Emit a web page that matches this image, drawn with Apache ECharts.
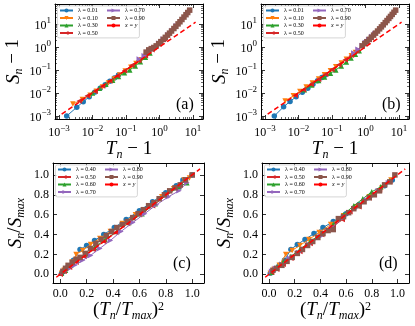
<!DOCTYPE html>
<html>
<head>
<meta charset="utf-8">
<script src="https://cdn.jsdelivr.net/npm/echarts@6/dist/echarts.min.js"></script>
<style>
html, body { margin: 0; padding: 0; background: #fff; }
#chart { width: 415px; height: 326px; }
</style>
</head>
<body>
<div id="chart"></div>
<script>
// ---- data ----
var topNames = ['λ = 0.01', 'λ = 0.10', 'λ = 0.30', 'λ = 0.50', 'λ = 0.70', 'λ = 0.90'];
var botNames = ['λ = 0.40', 'λ = 0.50', 'λ = 0.60', 'λ = 0.70', 'λ = 0.80', 'λ = 0.90'];

// panel (a): T_n - 1 (x) and S_n - 1 (y), one list per lambda
var aX = [
    [0.0017, 0.0034, 0.0053, 0.0080, 0.012, 0.017, 0.024, 0.033, 0.045, 0.060],
    [0.0026, 0.0050, 0.0085, 0.013, 0.020, 0.030, 0.045, 0.065, 0.095, 0.14, 0.20, 0.29, 0.40],
    [0.010, 0.016, 0.025, 0.040, 0.060, 0.090, 0.13, 0.19, 0.27, 0.38, 0.52],
    [0.004, 0.007, 0.012, 0.020, 0.033, 0.055, 0.09, 0.15, 0.24, 0.38, 0.6, 0.95, 1.4],
    [0.25, 0.35, 0.5, 0.7, 0.95, 1.3, 1.8, 2.4, 3.2],
    [0.40, 0.48, 0.57, 0.68, 0.8, 0.95, 1.1, 1.3, 1.5, 1.75, 2.0, 2.3, 2.7, 3.1, 3.6, 4.1, 4.7, 5.4, 6.2, 7.0, 8.0]
];
var aY = [
    [0.0010, 0.0024, 0.0042, 0.0068, 0.011, 0.016, 0.023, 0.032, 0.045, 0.060],
    [0.0033, 0.0052, 0.0080, 0.012, 0.018, 0.027, 0.041, 0.060, 0.090, 0.13, 0.19, 0.28, 0.42],
    [0.010, 0.016, 0.024, 0.036, 0.052, 0.075, 0.10, 0.15, 0.23, 0.36, 0.55],
    [0.0045, 0.0075, 0.012, 0.020, 0.033, 0.056, 0.093, 0.16, 0.26, 0.42, 0.75, 1.35, 2.3],
    [0.3, 0.42, 0.65, 0.95, 1.45, 2.2, 3.4, 5.2, 8.3],
    [0.6, 0.75, 0.85, 0.95, 1.12, 1.40, 1.71, 2.15, 2.63, 3.28, 4.0, 4.95, 6.35, 7.9, 10.1, 12.5, 15.7, 20, 25.4, 31.5, 40]
];

// panel (b)
var bX = [
    [0.0019, 0.0036, 0.0056, 0.0085, 0.013, 0.019, 0.027, 0.037, 0.05, 0.063],
    [0.004, 0.007, 0.011, 0.017, 0.026, 0.04, 0.06, 0.09, 0.13, 0.19, 0.27, 0.38, 0.5],
    [0.015, 0.025, 0.04, 0.06, 0.09, 0.13, 0.19, 0.27, 0.37, 0.5, 0.65],
    [0.008, 0.014, 0.024, 0.04, 0.065, 0.1, 0.16, 0.25, 0.38, 0.55, 0.8, 1.1],
    [0.45, 0.6, 0.8, 1.0, 1.25, 1.55, 1.9],
    [0.8, 0.95, 1.1, 1.3, 1.5, 1.75, 2.0, 2.3, 2.65, 3.0, 3.4, 3.9, 4.4, 5.0, 5.6, 6.3, 7.1, 8.0]
];
var bY = [
    [0.0010, 0.0025, 0.0043, 0.0068, 0.0108, 0.016, 0.024, 0.034, 0.047, 0.060],
    [0.0045, 0.0075, 0.0115, 0.018, 0.027, 0.041, 0.062, 0.093, 0.14, 0.2, 0.29, 0.42, 0.58],
    [0.014, 0.022, 0.035, 0.05, 0.072, 0.1, 0.15, 0.22, 0.33, 0.48, 0.68],
    [0.008, 0.014, 0.024, 0.04, 0.066, 0.104, 0.17, 0.28, 0.44, 0.68, 1.1, 1.7],
    [0.55, 0.8, 1.15, 1.55, 2.1, 2.85, 3.8],
    [1.12, 1.4, 1.7, 2.15, 2.63, 3.28, 4.0, 4.95, 6.16, 7.5, 9.2, 11.5, 14.1, 17.5, 21.3, 26.1, 32.3, 40]
];

// panel (c): (T_n/T_max)^2 (x) and S_n/S_max (y)
var cX = [
    [0.01, 0.03, 0.06, 0.1, 0.15, 0.2, 0.26, 0.33, 0.41, 0.5, 0.6, 0.7, 0.8, 0.88, 0.93, 1.0],
    [0.01, 0.03, 0.06, 0.09, 0.12, 0.17, 0.23, 0.3, 0.38, 0.47, 0.57, 0.67, 0.77, 0.86, 0.94, 0.98],
    [0.01, 0.04, 0.08, 0.13, 0.19, 0.26, 0.34, 0.43, 0.52, 0.62, 0.72, 0.81, 0.9, 0.96],
    [0.0, 0.03, 0.07, 0.12, 0.18, 0.25, 0.33, 0.42, 0.51, 0.6, 0.7, 0.8, 0.9, 1.0],
    [0.02, 0.06, 0.11, 0.17, 0.23, 0.3, 0.38, 0.46, 0.55, 0.64, 0.73, 0.82, 0.9, 0.96],
    [0.02, 0.04, 0.06, 0.09, 0.12, 0.15, 0.19, 0.23, 0.27, 0.31, 0.35, 0.39, 0.43, 0.47, 0.51, 0.55, 0.59, 0.63, 0.67, 0.71, 0.75, 0.79, 0.83, 0.87, 0.91, 0.95, 1.0]
];
var cY = [
    [0.01, 0.04, 0.08, 0.14, 0.25, 0.29, 0.34, 0.40, 0.47, 0.55, 0.64, 0.73, 0.82, 0.89, 0.95, 1.0],
    [0.01, 0.04, 0.08, 0.12, 0.20, 0.24, 0.30, 0.36, 0.43, 0.51, 0.60, 0.69, 0.78, 0.86, 0.95, 0.97],
    [0.01, 0.04, 0.09, 0.14, 0.2, 0.27, 0.35, 0.43, 0.52, 0.61, 0.71, 0.8, 0.88, 0.92],
    [0.0, 0.03, 0.07, 0.12, 0.18, 0.25, 0.33, 0.42, 0.51, 0.6, 0.69, 0.79, 0.89, 1.0],
    [0.02, 0.05, 0.09, 0.14, 0.19, 0.26, 0.34, 0.43, 0.52, 0.61, 0.7, 0.78, 0.84, 0.92],
    [0.03, 0.06, 0.09, 0.12, 0.15, 0.17, 0.21, 0.26, 0.31, 0.35, 0.39, 0.43, 0.47, 0.5, 0.53, 0.57, 0.61, 0.65, 0.69, 0.72, 0.76, 0.8, 0.84, 0.87, 0.9, 0.95, 1.0]
];

// panel (d)
var dX = [
    [0.01, 0.04, 0.08, 0.12, 0.17, 0.22, 0.28, 0.35, 0.42, 0.5, 0.6, 0.7, 0.8, 0.9, 0.96],
    [0.01, 0.04, 0.08, 0.13, 0.18, 0.24, 0.31, 0.39, 0.48, 0.58, 0.68, 0.78, 0.88, 0.95],
    [0.02, 0.06, 0.11, 0.17, 0.24, 0.32, 0.41, 0.5, 0.58, 0.66, 0.73, 0.8, 0.87, 0.94],
    [0.02, 0.06, 0.11, 0.17, 0.24, 0.32, 0.41, 0.5, 0.57, 0.63, 0.7, 0.78, 0.86, 0.94],
    [0.02, 0.05, 0.1, 0.16, 0.23, 0.31, 0.4, 0.49, 0.58, 0.67, 0.76, 0.85, 0.93],
    [0.03, 0.06, 0.1, 0.14, 0.18, 0.22, 0.26, 0.3, 0.34, 0.38, 0.42, 0.46, 0.5, 0.54, 0.58, 0.62, 0.66, 0.7, 0.74, 0.78, 0.82, 0.86, 0.9, 0.94, 0.98]
];
var dY = [
    [0.01, 0.05, 0.09, 0.14, 0.25, 0.3, 0.35, 0.41, 0.47, 0.53, 0.61, 0.7, 0.8, 0.89, 0.95],
    [0.01, 0.05, 0.09, 0.2, 0.24, 0.29, 0.35, 0.42, 0.5, 0.59, 0.68, 0.78, 0.87, 0.95],
    [0.02, 0.07, 0.12, 0.18, 0.25, 0.33, 0.41, 0.5, 0.6, 0.69, 0.76, 0.83, 0.88, 0.94],
    [0.02, 0.05, 0.1, 0.16, 0.23, 0.31, 0.4, 0.48, 0.55, 0.63, 0.68, 0.77, 0.85, 0.93],
    [0.03, 0.06, 0.1, 0.16, 0.22, 0.3, 0.38, 0.47, 0.57, 0.66, 0.75, 0.84, 0.92],
    [0.04, 0.06, 0.09, 0.13, 0.17, 0.21, 0.25, 0.29, 0.33, 0.37, 0.41, 0.44, 0.45, 0.56, 0.58, 0.62, 0.66, 0.69, 0.73, 0.77, 0.8, 0.84, 0.9, 0.93, 1.0]
];

// reference line x = y
var diagLog = [0.0012, 12];
var diagLin = [-0.03, 1.06];

// ---- styling ----
var colors = ['#1f77b4', '#ff7f0e', '#2ca02c', '#d62728', '#9467bd', '#8c564b'];
var symbols = ['circle', 'triangle', 'triangle', 'triangle', 'triangle', 'rect'];
var rotations = [0, 180, 0, 90, -90, 0];
var serif = 'Liberation Serif';

var panels = [
    { x: aX, y: aY, names: topNames, log: true, tag: '(a)', tagPos: [-27, -22], grid: { left: 55, top: 4, width: 148, height: 115 } },
    { x: bX, y: bY, names: topNames, log: true, tag: '(b)', tagPos: [-27, -22], grid: { left: 261, top: 4, width: 148, height: 115 } },
    { x: cX, y: cY, names: botNames, log: false, tag: '(c)', tagPos: [-31, -27], grid: { left: 53, top: 163, width: 151, height: 120 } },
    { x: dX, y: dY, names: botNames, log: false, tag: '(d)', tagPos: [-30, -27], grid: { left: 262, top: 163, width: 147, height: 120 } }
];

var nameRich = {
    i: { fontFamily: serif, fontStyle: 'italic', fontSize: 19, lineHeight: 21, verticalAlign: 'top', color: '#000' },
    t: { fontFamily: serif, fontSize: 19, lineHeight: 21, verticalAlign: 'top', color: '#000' },
    sub: { fontFamily: serif, fontStyle: 'italic', fontSize: 12, lineHeight: 12, verticalAlign: 'bottom', color: '#000' },
    sup: { fontFamily: serif, fontSize: 12, lineHeight: 12, verticalAlign: 'top', color: '#000' }
};
var logRich = {
    b: { fontFamily: serif, fontSize: 12, lineHeight: 15, verticalAlign: 'bottom', color: '#000' },
    s: { fontFamily: serif, fontSize: 9, lineHeight: 9, verticalAlign: 'top', color: '#000' }
};

function logLabel(v) {
    var e = Math.log10(v);
    var n = Math.round(e);
    if (Math.abs(e - n) > 1e-6) return '';
    return '{b|10}{s|' + (n < 0 ? '−' + (-n) : n) + '}';
}
function linLabel(v) {
    var k = v / 0.2;
    if (Math.abs(k - Math.round(k)) > 1e-6) return '';
    return (Math.round(k) * 0.2).toFixed(1);
}

var tick = { show: true, inside: true, length: 4, lineStyle: { color: '#000', width: 0.8 } };
var line = { show: true, onZero: false, lineStyle: { color: '#000', width: 1 } };
function minorFor(log) {
    return { show: log, splitNumber: 9, length: 2, lineStyle: { color: '#000', width: 0.6 } };
}

var option = {
    animation: false,
    backgroundColor: '#fff',
    grid: [], xAxis: [], yAxis: [], series: [], legend: [], title: [], graphic: []
};

panels.forEach(function (p, k) {
    option.grid.push(p.grid);
    var xr = p.log ? [0.00076, 20] : [-0.055, 1.09];
    var yr = p.log ? [0.00074, 74] : [-0.088, 1.12];
    var type = p.log ? 'log' : 'value';
    var xName = p.log ? '{i|T}{sub|n}{t| − 1}' : '{t|(}{i|T}{sub|n}{t|/}{i|T}{sub|max}{t|)}{sup|2}';
    var yName = p.log ? '{i|S}{sub|n}{t| − 1}' : '{i|S}{sub|n}{t|/}{i|S}{sub|max}';
    var fmt = p.log ? logLabel : linLabel;

    option.xAxis.push({
        type: type, gridIndex: k, min: xr[0], max: xr[1], position: 'bottom',
        axisLine: line, axisTick: tick, minorTick: minorFor(p.log), splitLine: { show: false },
        axisLabel: { formatter: fmt, rich: logRich, fontFamily: serif, fontSize: 12, color: '#000', margin: 5, showMinLabel: false, showMaxLabel: false },
        name: xName, nameLocation: 'middle', nameGap: 16, nameTextStyle: { rich: nameRich }
    });
    option.xAxis.push({
        type: type, gridIndex: k, min: xr[0], max: xr[1], position: 'top',
        axisLine: line, axisTick: tick, minorTick: minorFor(p.log), axisLabel: { show: false }, splitLine: { show: false }
    });
    option.yAxis.push({
        type: type, gridIndex: k, min: yr[0], max: yr[1], position: 'left',
        axisLine: line, axisTick: tick, minorTick: minorFor(p.log), splitLine: { show: false },
        axisLabel: { formatter: fmt, rich: logRich, fontFamily: serif, fontSize: 12, color: '#000', margin: 4, showMinLabel: false, showMaxLabel: false },
        name: yName, nameLocation: 'middle', nameGap: p.log ? 30 : 26, nameTextStyle: { rich: nameRich }
    });
    option.yAxis.push({
        type: type, gridIndex: k, min: yr[0], max: yr[1], position: 'right',
        axisLine: line, axisTick: tick, minorTick: minorFor(p.log), axisLabel: { show: false }, splitLine: { show: false }
    });

    p.names.forEach(function (nm, j) {
        option.series.push({
            name: nm, type: 'line', xAxisIndex: 2 * k, yAxisIndex: 2 * k,
            data: p.x[j].map(function (v, i) { return [v, p.y[j][i]]; }),
            symbol: symbols[j], symbolRotate: rotations[j], symbolSize: 5.5,
            itemStyle: { color: colors[j] },
            lineStyle: { color: colors[j], width: 1 },
            z: 2 + j
        });
    });
    var dg = p.log ? diagLog : diagLin;
    option.series.push({
        name: 'x = y', type: 'line', xAxisIndex: 2 * k, yAxisIndex: 2 * k,
        data: [[dg[0], dg[0]], [dg[1], dg[1]]],
        symbol: 'none', lineStyle: { color: '#ff0000', width: 1.5, type: [5, 3] },
        itemStyle: { color: '#ff0000' }, z: 10
    });

    var g = p.grid;
    option.graphic.push({
        type: 'rect', left: g.left + 2, top: g.top + 1.5, z: 20,
        shape: { width: 82, height: 32, r: 2 },
        style: { fill: 'rgba(255,255,255,0.85)', stroke: '#cccccc', lineWidth: 0.8 }
    });
    var legendBase = {
        orient: 'vertical', selectedMode: false, itemWidth: 13, itemHeight: 5, itemGap: 1.5,
        padding: 0, z: 30,
        textStyle: { fontFamily: serif, fontSize: 6, lineHeight: 6, color: '#000', rich: { i: { fontStyle: 'italic', fontFamily: serif, fontSize: 6 } } },
        formatter: function (n) { return n === 'x = y' ? '{i|x = y}' : n; }
    };
    option.legend.push(Object.assign({}, legendBase, { left: g.left + 4, top: g.top + 3.5, data: p.names.slice(0, 4) }));
    option.legend.push(Object.assign({}, legendBase, { left: g.left + 51, top: g.top + 3.5, data: p.names.slice(4).concat(['x = y']) }));

    option.title.push({
        text: p.tag, padding: 0,
        left: g.left + g.width + p.tagPos[0], top: g.top + g.height + p.tagPos[1],
        textStyle: { fontFamily: serif, fontSize: 16, fontWeight: 'normal', color: '#000' }
    });
});

var chart = echarts.init(document.getElementById('chart'));
chart.setOption(option);
</script>
</body>
</html>
